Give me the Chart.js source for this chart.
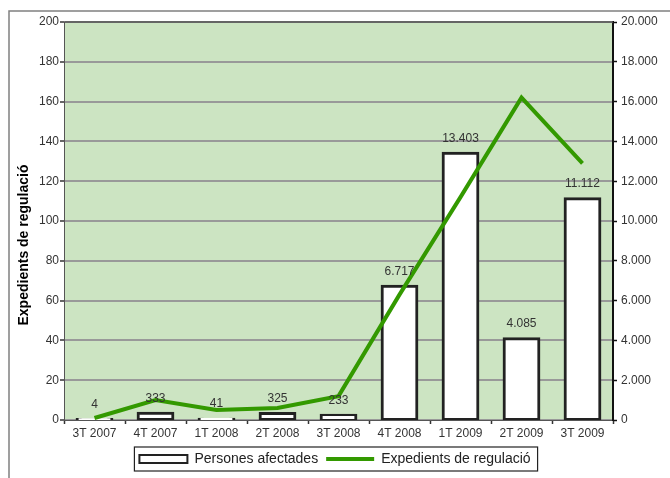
<!DOCTYPE html>
<html lang="ca">
<head>
<meta charset="UTF-8">
<title>Expedients de regulació</title>
<style>
  body { margin: 0; background: #fff; }
  #wrap { width: 670px; height: 478px; }
</style>
</head>
<body>
<div id="wrap"><canvas id="chart" width="670" height="478"></canvas></div>
<script src="https://cdn.jsdelivr.net/npm/chart.js@4/dist/chart.umd.min.js"></script>
<script>
// data
const quarters = ['3T 2007', '4T 2007', '1T 2008', '2T 2008', '3T 2008', '4T 2008', '1T 2009', '2T 2009', '3T 2009'];
const persones = [4, 333, 41, 325, 233, 6717, 13403, 4085, 11112];
const expedients = [1, 10, 5, 6, 12, 63, 112, 162, 129];

const fmt = n => String(n).replace(/\B(?=(\d{3})+(?!\d))/g, '.');
const FONT = "'Liberation Sans', Arial, sans-serif";

// green plot background + outer frame + legend frame + y title
const decor = {
  id: 'decor',
  beforeDraw(chart) {
    const { ctx, chartArea: a } = chart;
    ctx.save();
    ctx.fillStyle = 'rgb(204,228,194)';
    ctx.fillRect(a.left, a.top, a.right - a.left, a.bottom - a.top);
    ctx.restore();
  },
  afterDraw(chart) {
    const ctx = chart.ctx;
    const a = chart.chartArea;
    ctx.save();
    // outer frame (cut off on the right and bottom)
    ctx.strokeStyle = '#808080';
    ctx.lineWidth = 1.5;
    ctx.beginPath();
    ctx.moveTo(9, 478);
    ctx.lineTo(9, 11);
    ctx.lineTo(670, 11);
    ctx.stroke();
    // top edge of the plot
    ctx.strokeStyle = '#555';
    ctx.lineWidth = 1.5;
    ctx.beginPath();
    ctx.moveTo(a.left, a.top);
    ctx.lineTo(a.right, a.top);
    ctx.stroke();
    // legend frame
    const hb = chart.legend.legendHitBoxes;
    if (hb && hb.length) {
      const l = Math.min(...hb.map(h => h.left)) - 5;
      const r = Math.max(...hb.map(h => h.left + h.width)) + 7;
      const t = hb[0].top - 5;
      const b = hb[0].top + hb[0].height + 5;
      ctx.strokeStyle = '#222';
      ctx.lineWidth = 1.2;
      ctx.strokeRect(l, t, r - l, b - t);
    }
    // y axis title
    ctx.translate(24, 245);
    ctx.rotate(-Math.PI / 2);
    ctx.fillStyle = '#000';
    ctx.font = 'bold 14px ' + FONT;
    ctx.textAlign = 'center';
    ctx.textBaseline = 'middle';
    ctx.fillText('Expedients de regulació', 0, 0);
    ctx.restore();
  }
};

// value labels above the bars
const barLabels = {
  id: 'barLabels',
  afterDatasetsDraw(chart) {
    const ctx = chart.ctx;
    const meta = chart.getDatasetMeta(1);
    ctx.save();
    ctx.fillStyle = '#333';
    ctx.font = '12px ' + FONT;
    ctx.textAlign = 'center';
    ctx.textBaseline = 'middle';
    meta.data.forEach((bar, i) => {
      ctx.fillText(fmt(persones[i]), bar.x, bar.y - 15);
    });
    ctx.restore();
  }
};

const ctx = document.getElementById('chart').getContext('2d');
const myChart = new Chart(ctx, {
  type: 'bar',
  data: {
    labels: quarters,
    datasets: [{
      type: 'line',
      label: 'Expedients de regulació',
      data: expedients,
      yAxisID: 'y',
      borderColor: '#339900',
      backgroundColor: '#339900',
      borderWidth: 4,
      pointRadius: 0,
      tension: 0
    }, {
      type: 'bar',
      label: 'Persones afectades',
      data: persones,
      yAxisID: 'y1',
      backgroundColor: '#ffffff',
      borderColor: '#222',
      borderWidth: 3,
      borderSkipped: false,
      inflateAmount: 1.5,
      categoryPercentage: 1,
      barPercentage: 0.57
    }]
  },
  options: {
    responsive: false,
    animation: false,
    layout: { padding: { top: 22, bottom: 2, left: 0, right: 0 } },
    plugins: {
      tooltip: { enabled: false },
      legend: {
        position: 'bottom',
        reverse: true,
        labels: {
          usePointStyle: true,
          pointStyleWidth: 48,
          boxHeight: 8,
          padding: 8,
          color: '#222',
          font: { family: FONT, size: 14 },
          generateLabels(chart) {
            const items = Chart.defaults.plugins.legend.labels.generateLabels(chart);
            items.forEach(it => {
              if (it.datasetIndex === 1) {
                it.pointStyle = 'rect';
                it.fillStyle = '#fff';
                it.strokeStyle = '#222';
                it.lineWidth = 2;
              } else {
                it.pointStyle = 'line';
                it.strokeStyle = '#339900';
                it.lineWidth = 4;
              }
            });
            return items;
          }
        }
      }
    },
    scales: {
      x: {
        offset: true,
        afterFit(s) { s.height = 24; },
        grid: { drawOnChartArea: false, offset: true, tickLength: 4, tickColor: '#333', tickWidth: 1.5 },
        border: { color: '#555', width: 1 },
        ticks: { color: '#333', font: { family: FONT, size: 12 }, padding: 2, maxRotation: 0 }
      },
      y: {
        position: 'left',
        min: 0,
        max: 200,
        afterFit(s) { s.width = 64; },
        grid: { color: '#999', lineWidth: 2, tickLength: 4, tickColor: '#333', tickWidth: 1.5 },
        border: { color: '#555', width: 1 },
        ticks: { stepSize: 20, color: '#333', font: { family: FONT, size: 12 }, padding: 1 }
      },
      y1: {
        position: 'right',
        min: 0,
        max: 20000,
        afterFit(s) { s.width = 57; },
        grid: { drawOnChartArea: false, tickLength: 4, tickColor: '#111', tickWidth: 1.5 },
        border: { color: '#111', width: 2 },
        ticks: { stepSize: 2000, color: '#333', font: { family: FONT, size: 12 }, padding: 4,
                 callback: v => fmt(v) }
      }
    }
  },
  plugins: [decor, barLabels]
});
</script>
</body>
</html>
